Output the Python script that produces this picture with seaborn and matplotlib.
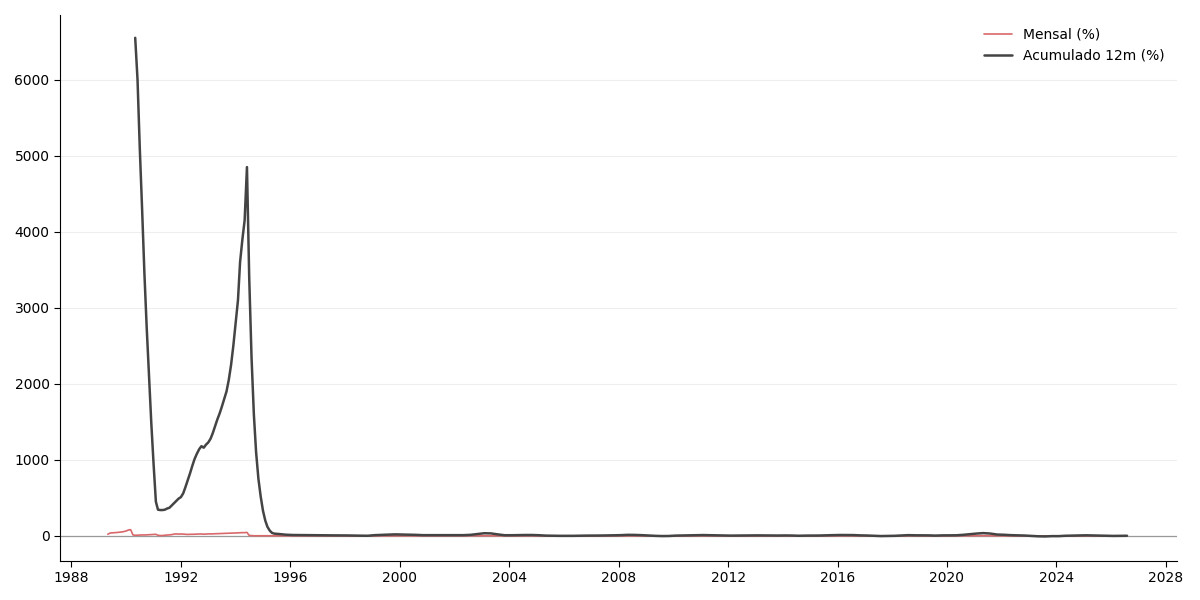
import pandas as pd
import matplotlib.pyplot as plt
import matplotlib.dates as mdates
import seaborn as sns

# Monthly readings for the high-inflation years
mensal_inicio = "1989-05-01"
mensal_alta = [22, 38, 40, 42, 45, 48, 52, 57,
               65, 78, 82, 13, 8, 10, 12, 13, 12, 14, 16, 18,
               20, 21, 8, 5, 5, 9, 11, 14, 17, 24, 26, 24,
               25, 24, 21, 19, 21, 21, 22, 24, 25, 25, 23, 24,
               27, 26, 27, 28, 29, 30, 31, 33, 35, 35, 36, 37,
               39, 40, 42, 42, 43, 46, 6, 4, 2, 2, 2, 1,
               1, 1, 1, 2, 1, 2, 2]

acum_inicio = "1990-05-01"
acum_alta = [6550, 6000, 5100, 4300, 3450, 2750, 2100, 1500,
             950, 450, 345, 340, 340, 345, 360, 370, 400, 430, 460, 490,
             510, 560, 640, 730, 820, 920, 1010, 1080, 1140, 1180, 1160, 1200,
             1230, 1280, 1350, 1440, 1530, 1610, 1700, 1800, 1900, 2050, 2250, 2500,
             2800, 3100, 3600, 3900, 4150, 4850, 3400, 2350, 1600, 1100, 750, 520,
             330, 200, 120, 70, 40, 30, 28]

# Quarterly readings afterwards (Aug/Nov/Feb/May)
trim_inicio = "1995-08-01"
acum_trim = [25, 16,
             12, 11, 10, 9, 8, 8, 7, 7, 6, 4, 3, 2, 10, 14, 17, 20,
             18, 15, 14, 10, 10, 9, 11, 10, 9, 10, 14, 25, 35, 33, 20, 9,
             9, 11, 12, 12, 9, 4, 2, 1, 1, 1, 3, 4, 4, 5, 6, 8,
             10, 14, 13, 10, 5, 1, -2, -1, 4, 6, 9, 11, 11, 9, 7, 5,
             4, 5, 7, 8, 7, 6, 4, 5, 6, 5, 2, 4, 4, 5, 8, 10,
             12, 11, 11, 7, 5, 1, -2, -1, 1, 6, 10, 8, 8, 7, 4, 7,
             7, 8, 14, 23, 31, 37, 31, 18, 15, 10, 8, 5, 0, -5, -7, -3,
             -3, 2, 4, 6, 8, 6, 3, 1, 0, 1, 2]
mensal_trim = [1.5, 1.0,
               1.0, 0.8, 0.8, 0.7, 0.7, 0.6, 0.6, 0.5, 0.4, 0.3, 0.2, 0.2, 1.0, 1.2, 1.5, 1.5,
               1.2, 1.0, 1.0, 0.8, 0.8, 0.8, 0.9, 0.8, 0.8, 0.9, 1.5, 2.5, 2.5, 1.5, 0.5, 0.5,
               0.8, 1.0, 1.0, 1.0, 0.5, 0.2, 0.1, 0.1, 0.1, 0.2, 0.3, 0.4, 0.4, 0.5, 0.6, 0.8,
               1.0, 1.5, 1.0, 0.5, 0.2, -0.1, -0.3, 0.0, 0.4, 0.6, 0.9, 1.0, 0.8, 0.6, 0.5, 0.4,
               0.4, 0.5, 0.7, 0.7, 0.6, 0.5, 0.3, 0.4, 0.5, 0.4, 0.2, 0.4, 0.4, 0.5, 0.8, 1.0,
               1.0, 0.9, 0.8, 0.5, 0.3, 0.0, -0.2, 0.0, 0.2, 0.6, 0.9, 0.6, 0.6, 0.5, 0.3, 0.6,
               0.6, 0.8, 1.5, 2.5, 3.0, 3.5, 2.0, 1.0, 1.0, 0.7, 0.5, 0.3, -0.2, -0.8, -0.6, 0.0,
               0.0, 0.3, 0.5, 0.6, 0.7, 0.4, 0.2, 0.0, 0.0, 0.1, 0.2]

datas_trim = pd.date_range(trim_inicio, periods=len(acum_trim), freq="QS-NOV")
mensal = pd.DataFrame({
    "data": list(pd.date_range(mensal_inicio, periods=len(mensal_alta), freq="MS")) + list(datas_trim),
    "valor": mensal_alta + mensal_trim,
})
acum = pd.DataFrame({
    "data": list(pd.date_range(acum_inicio, periods=len(acum_alta), freq="MS")) + list(datas_trim),
    "valor": acum_alta + acum_trim,
})

sns.set_style("white", {"axes.edgecolor": "black", "xtick.color": "black",
                        "ytick.color": "black", "text.color": "black",
                        "axes.labelcolor": "black"})
fig, ax = plt.subplots(figsize=(12, 6), dpi=100)
sns.lineplot(data=mensal, x="data", y="valor", color="#d9686b", linewidth=1.2, label="Mensal (%)", ax=ax)
sns.lineplot(data=acum, x="data", y="valor", color="#444444", linewidth=1.8, label="Acumulado 12m (%)", ax=ax)
ax.axhline(0, color="#999999", linewidth=0.9, zorder=1.5)

ax.yaxis.grid(True, color="#eeeeee", linewidth=0.8)
ax.set_axisbelow(True)
ax.xaxis.set_major_locator(mdates.YearLocator(4))
ax.xaxis.set_major_formatter(mdates.DateFormatter("%Y"))
ax.set_xlim(pd.Timestamp("1987-08-01"), pd.Timestamp("2028-06-01"))
ax.set_ylim(-330, 6850)
ax.set_xlabel("")
ax.set_ylabel("")
ax.tick_params(axis="both", labelsize=10, length=4, left=True, bottom=True)
sns.despine(ax=ax)
ax.legend(loc="upper right", frameon=False, fontsize=10)

plt.subplots_adjust(left=0.05, right=0.981, top=0.975, bottom=0.065)
plt.savefig("out.png")
